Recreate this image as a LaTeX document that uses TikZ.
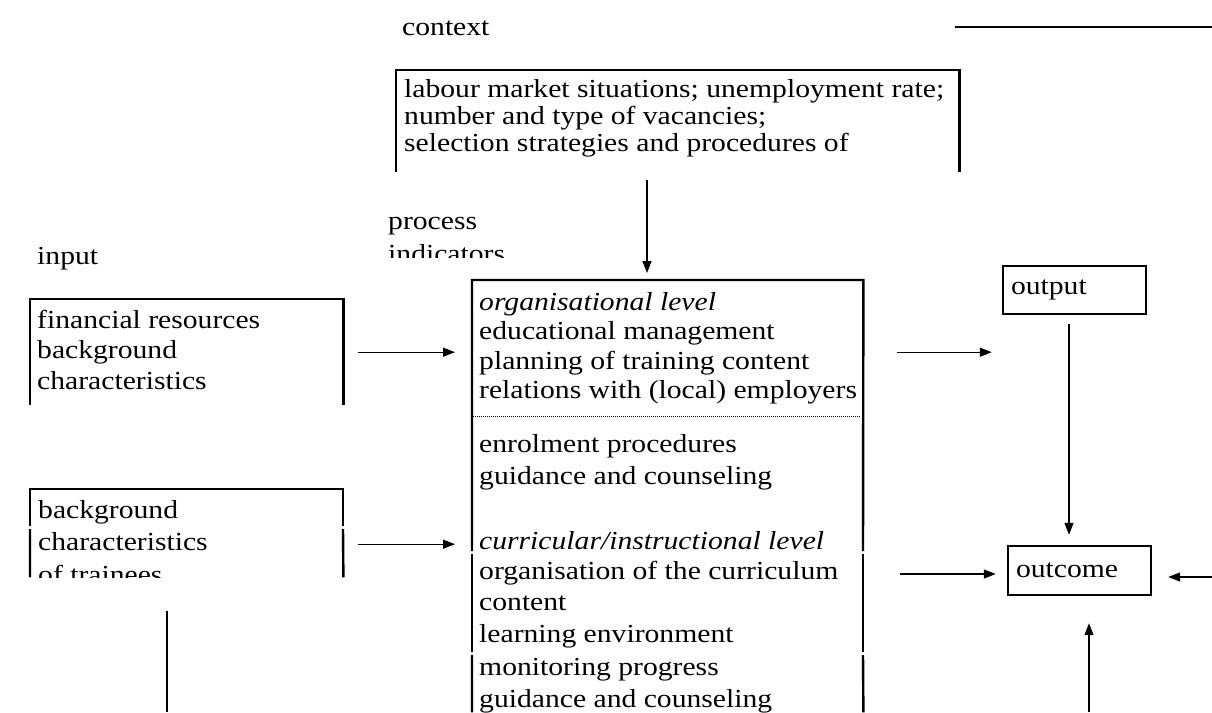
\documentclass[tikz,border=0pt]{standalone}
\usepackage{fontspec}
\setmainfont{Liberation Serif}[FakeStretch=1.14]
\usetikzlibrary{arrows.meta}

\tikzset{
  box/.style={line width=2.4pt},
  frame/.style={inner sep=0pt, anchor=north west},
  arr/.style={line width=1.3pt, -{Triangle[length=12pt,width=9pt]}},
  txt/.style={anchor=base west, inner sep=0pt, font=\fontsize{26}{30}\selectfont},
  rbox/.style={draw, line width=2.4pt, minimum width=143pt, minimum height=48pt,
    text width=127pt, inner xsep=8pt, inner ysep=0pt, align=left,
    font=\fontsize{26}{30}\selectfont}
}

\begin{document}
\begin{tikzpicture}[x=1pt,y=-1pt]
\useasboundingbox (0,0) rectangle (1212,712);
\clip (0,0) rectangle (1212,712);

% heading and the line at the top right
\node[txt] (ctx) at (402,35) {context};
\draw[line width=1.3pt] (955,27) -- (1212,27);

% context box, cut off at the bottom
\node[frame, minimum width=563pt, minimum height=102pt] (ctxbox) at (396,70) {};
\draw[box] (ctxbox.south west) |- (ctxbox.north east) -- (ctxbox.south east);
\node[txt] (c1) at (404,97) {labour market situations; unemployment rate;};
\node[txt] (c2) at (404,124) {number and type of vacancies;};
\node[txt] (c3) at (404,151) {selection strategies and procedures of};

% process indicators (second line cut)
\node[txt] (proc) at (388,229) {process};
\begin{scope}
\clip (380,235) rectangle (600,257);
\node[txt] (ind) at (388,262) {indicators};
\end{scope}

% input boxes
\node[txt] (inp) at (37,264) {input};
\node[frame, minimum width=313pt, minimum height=106pt] (inA) at (30,299) {};
\draw[box] (inA.south west) |- (inA.north east) -- (inA.south east);
\node[txt] (a1) at (37,328) {financial resources};
\node[txt] (a2) at (37,358) {background};
\node[txt] (a3) at (37,389) {characteristics};

\node[frame, minimum width=313pt, minimum height=88pt] (inB) at (30,489) {};
\draw[box] (30,526) |- (343,489) -- (343,526);
\draw[box] (30,529) -- (inB.south west) (343,529) -- (inB.south east);
\node[txt] (b1) at (38,518) {background};
\node[txt] (b2) at (38,550) {characteristics};
\begin{scope}
\clip (30,560) rectangle (343,577);
\node[txt] (b3) at (38,583) {of trainees};
\end{scope}
\draw[line width=1.3pt] (167,611) -- (167,712);

% process box, running off the bottom
\node[frame, minimum width=391pt, minimum height=432pt] (main) at (472,280) {};
\draw[box] (472,551) |- (main.north east) -- (863,551);
\draw[box] (472,554) -- (472,652) (863,554) -- (863,652);
\draw[box] (472,655) -- (main.south west) (863,655) -- (main.south east);
\draw[line width=0.8pt, dash pattern=on 1pt off 1pt] (473,416) -- (861,416);

\node[txt] (m1) at (479,310) {\itshape organisational level};
\node[txt] (m2) at (479,339) {educational management};
\node[txt] (m3) at (479,369) {planning of training content};
\node[txt] (m4) at (479,398) {relations with (local) employers};
\node[txt] (m5) at (479,452) {enrolment procedures};
\node[txt] (m6) at (479,484) {guidance and counseling};
\node[txt] (m7) at (479,549) {\itshape curricular/instructional level};
\node[txt] (m8) at (479,579) {organisation of the curriculum};
\node[txt] (m9) at (479,610) {content};
\node[txt] (m10) at (479,642) {learning environment};
\node[txt] (m11) at (479,675) {monitoring progress};
\node[txt] (m12) at (479,707) {guidance and counseling};

% output and outcome
\node[rbox] (output) at (1074.5,290) {output};
\node[rbox, minimum height=49pt] (outcome) at (1079.5,570.5) {outcome};

% connectors
\coordinate (cx) at (647,0);
\coordinate (ox) at (1069,0);
\coordinate (rin) at (1212,577);
\coordinate (bin) at (1089,712);
\draw[arr] ([yshift=-8pt]ctxbox.south -| cx) -- ([yshift=7pt]main.north -| cx);
\draw[arr] ([xshift=15pt]inA.east) -- ([xshift=-17pt]main.west |- inA.east);
\draw[arr] ([xshift=15pt,yshift=-11pt]inB.east) -- ([xshift=-17pt,yshift=-11pt]main.west |- inB.east);
\draw[arr] ([xshift=34pt]main.east |- inA.east) -- ([xshift=-10pt]output.west |- inA.east);
\draw[arr] ([xshift=37pt,yshift=-3.5pt]main.east |- outcome.west) -- ([xshift=-11pt,yshift=-3.5pt]outcome.west);
\draw[arr] ([yshift=-9pt]output.south -| ox) -- ([yshift=10pt]outcome.north -| ox);
\draw[arr] (rin) -- ([xshift=16pt]outcome.east |- rin);
\draw[arr] (bin) -- ([yshift=-27pt]outcome.south -| bin);
\end{tikzpicture}
\end{document}
